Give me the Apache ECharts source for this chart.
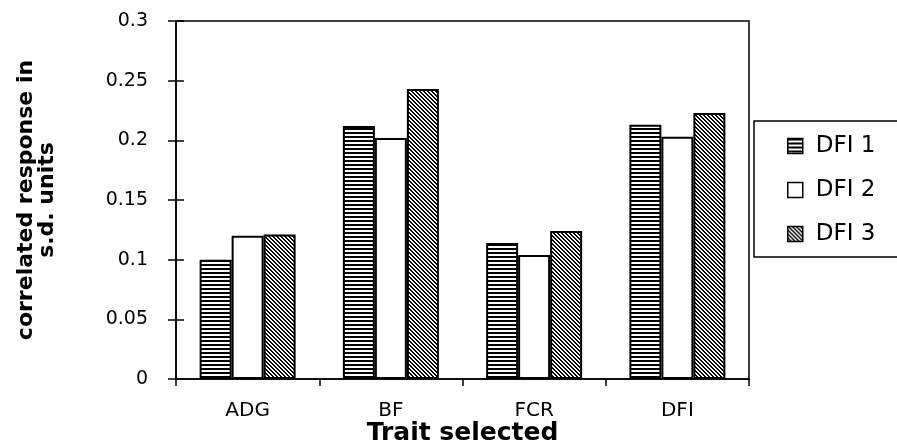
<!DOCTYPE html>
<html>
<head>
<meta charset="utf-8">
<script src="https://cdn.jsdelivr.net/npm/echarts@6/dist/echarts.min.js"></script>
<style>html,body{margin:0;padding:0;background:#fff;}#c{width:897px;height:445px;}</style>
</head>
<body>
<div id="c"></div>
<script>
var categories = ['ADG', 'BF', 'FCR', 'DFI'];
var seriesNames = ['DFI 1', 'DFI 2', 'DFI 3'];
var dfi1 = [0.100, 0.212, 0.114, 0.213];
var dfi2 = [0.120, 0.202, 0.104, 0.203];
var dfi3 = [0.121, 0.243, 0.124, 0.223];
var yMin = 0, yMax = 0.3, yStep = 0.05;

function makePattern(kind) {
  var c = document.createElement('canvas');
  c.width = 4; c.height = 4;
  var ctx = c.getContext('2d');
  ctx.fillStyle = '#fff';
  ctx.fillRect(0, 0, 4, 4);
  ctx.fillStyle = '#000';
  for (var y = 0; y < 4; y++) {
    for (var x = 0; x < 4; x++) {
      var on;
      if (kind === 'h') on = (y % 4) < 2;
      else on = (((x - y) % 4) + 4) % 4 < 2;
      if (on) ctx.fillRect(x, y, 1, 1);
    }
  }
  return { image: c, repeat: 'repeat' };
}

var fills = [makePattern('h'), '#ffffff', makePattern('d')];
var values = [dfi1, dfi2, dfi3];
var FONT = 'DejaVu Sans';

var chart = echarts.init(document.getElementById('c'), null, { renderer: 'canvas' });
chart.setOption({
  animation: false,
  backgroundColor: '#fff',
  textStyle: { fontFamily: FONT, color: '#000' },
  grid: { left: 176, right: 148, top: 21, bottom: 66, outerBoundsMode: 'none', containLabel: false, show: true, borderColor: '#000', borderWidth: 1.5, backgroundColor: 'transparent' },
  legend: {
    orient: 'vertical',
    left: 754, top: 121,
    data: seriesNames,
    icon: 'rect',
    itemWidth: 15, itemHeight: 15,
    itemGap: 18,
    padding: [12, 60, 10, 33],
    borderColor: '#000', borderWidth: 1.5,
    textStyle: { fontFamily: FONT, fontSize: 23, color: '#000', lineHeight: 26, padding: [0, 0, 0, 8] },
    itemStyle: { borderColor: '#000', borderWidth: 1.5 }
  },
  xAxis: {
    type: 'category',
    data: categories,
    name: 'Trait selected',
    nameLocation: 'middle',
    nameGap: 42,
    nameMoveOverlap: false,
    nameTextStyle: { fontFamily: FONT, fontSize: 25, fontWeight: 'bold', color: '#000' },
    axisLine: { lineStyle: { color: '#000', width: 1.5 } },
    axisTick: { show: true, length: 7, lineStyle: { color: '#000', width: 1.5 } },
    axisLabel: { fontFamily: FONT, fontSize: 20, color: '#000', margin: 22 }
  },
  yAxis: [{
    type: 'value',
    min: yMin, max: yMax, interval: yStep,
    name: 'correlated response in\ns.d. units',
    nameLocation: 'middle',
    nameGap: 118,
    nameMoveOverlap: false,
    nameTextStyle: { fontFamily: FONT, fontSize: 22, fontWeight: 'bold', color: '#000', lineHeight: 21 },
    axisLine: { show: true, lineStyle: { color: '#000', width: 1.5 } },
    axisTick: { show: true, length: 8, lineStyle: { color: '#000', width: 1.5 } },
    axisLabel: { fontFamily: FONT, fontSize: 19, color: '#000', margin: 28 },
    splitLine: { show: false }
  }, {
    type: 'value',
    min: yMin, max: yMax, interval: yStep,
    position: 'left',
    axisLine: { show: false },
    axisTick: { show: true, inside: true, length: 8, lineStyle: { color: '#000', width: 1.5 } },
    axisLabel: { show: false },
    splitLine: { show: false }
  }],
  series: seriesNames.map(function (n, i) {
    return {
      name: n,
      type: 'bar',
      yAxisIndex: 0,
      data: values[i],
      barGap: '0%',
      barCategoryGap: '33%',
      itemStyle: { color: fills[i], borderColor: '#000', borderWidth: 2 }
    };
  })
});
</script>
</body>
</html>
